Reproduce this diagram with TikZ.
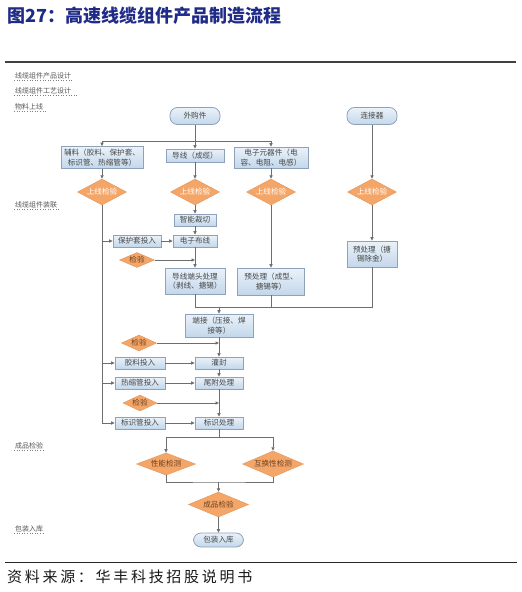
\documentclass[tikz,border=0pt]{standalone}
\usepackage{fontspec}
\setmainfont{Noto Sans CJK SC}
\usetikzlibrary{shapes.geometric,arrows.meta}
\definecolor{titleblue}{HTML}{1F2B86}
\definecolor{boxtop}{HTML}{EAF2FA}
\definecolor{boxbot}{HTML}{C3D7EB}
\definecolor{boxline}{HTML}{8EA3B9}
\definecolor{diafill}{HTML}{F4A669}
\definecolor{dialine}{HTML}{E39356}
\definecolor{diatext}{HTML}{6B4222}
\definecolor{lncol}{HTML}{6E6E6E}
\definecolor{labcol}{HTML}{555555}
\tikzset{
  boxnode/.style={draw=boxline, line width=0.8pt, top color=boxtop, bottom color=boxbot,
    font=\fontsize{7.6}{9.6}\selectfont, text=black!72, inner sep=0pt, align=center},
  rndnode/.style={boxnode, rounded corners=7.5pt},
  dianode/.style={diamond, fill=diafill, draw=dialine, line width=0.4pt, aspect=2, inner sep=0pt,
    font=\fontsize{7.6}{9}\selectfont, text=diatext},
  lightdia/.style={dianode, text=white},
  lab/.style={font=\fontsize{7}{8}\selectfont, text=labcol, anchor=west, inner sep=1pt},
  uline/.style={draw=gray, dotted, line width=0.6pt},
  conn/.style={draw=lncol, line width=0.8pt},
  arr/.style={conn, -{Triangle[length=3.5pt,width=3.2pt]}},
}
\begin{document}
\begin{tikzpicture}[x=1pt,y=-1pt]
\useasboundingbox (0,0) rectangle (522,592);
% title and rules
\node[anchor=west, inner sep=0pt, font=\fontsize{18}{20}\selectfont\bfseries, text=titleblue] (title) at (7,16) {图27：高速线缆组件产品制造流程};
\coordinate (r1a) at (5,62); \coordinate (r1b) at (516,62);
\draw[line width=1.2pt, black!75] (r1a) -- (r1b);
\coordinate (r2a) at (5,562); \coordinate (r2b) at (517,562);
\draw[line width=1pt, black!85] (r2a) -- (r2b);
\node[anchor=west, inner sep=0pt, font=\fontsize{15}{17}\selectfont\addfontfeature{LetterSpace=18}, text=black!90] (src) at (7,577) {资料来源：华丰科技招股说明书};
% left labels
\node[lab] (l1) at (14,76) {线缆组件产品设计};
\node[lab] (l2) at (14,91) {线缆组件工艺设计};
\node[lab] (l3) at (14,107) {物料上线};
\node[lab] (l4) at (14,205) {线缆组件装联};
\node[lab] (l5) at (14,446) {成品检验};
\node[lab] (l6) at (14,529) {包装入库};
\draw[uline] (l1.south west) -- (l1.south east);
\draw[uline] (l2.south west) -- ([xshift=6pt]l2.south east);
\draw[uline] (l3.south west) -- ([xshift=1pt]l3.south east);
\draw[uline] (l4.south west) -- (l4.south east);
\draw[uline] (l5.south west) -- (l5.south east);
\draw[uline] (l6.south west) -- (l6.south east);
% top nodes
\node[rndnode, minimum width=50, minimum height=17] (wgj) at (195,116) {外购件};
\node[rndnode, minimum width=50, minimum height=17] (ljq) at (372,116) {连接器};
\node[boxnode, minimum width=82, minimum height=22] (fl) at (102,157.5) {辅料（胶料、保护套、\\标识管、热缩管等）};
\node[boxnode, minimum width=58, minimum height=13] (dx) at (195,155.5) {导线（成缆）};
\node[boxnode, minimum width=74, minimum height=21] (dz) at (271,157.5) {电子元器件（电\\容、电阻、电感）};
% inspection diamonds
\node[lightdia, minimum width=49, minimum height=26] (d1) at (102,192) {上线检验};
\node[lightdia, minimum width=49, minimum height=26] (d2) at (195,192) {上线检验};
\node[lightdia, minimum width=49, minimum height=26] (d3) at (271,192) {上线检验};
\node[lightdia, minimum width=49, minimum height=26] (d4) at (372,192) {上线检验};
% middle column
\node[boxnode, minimum width=42, minimum height=12] (znqq) at (195,220) {智能裁切};
\node[boxnode, minimum width=44, minimum height=12] (dzbx) at (195,241) {电子布线};
\node[boxnode, minimum width=48, minimum height=12] (bht) at (137,241) {保护套投入};
\node[dianode, minimum width=35, minimum height=15] (jy1) at (137,260) {检验};
\node[boxnode, minimum width=60, minimum height=26] (dxdt) at (195,281) {导线端头处理\\（剥线、搪锡）};
\node[boxnode, minimum width=67, minimum height=27] (ycl1) at (271,281.5) {预处理（成型、\\搪锡等）};
\node[boxnode, minimum width=50, minimum height=26] (ycl2) at (372,254) {预处理（搪\\锡除金）};
% assembly
\node[boxnode, minimum width=68, minimum height=23] (dj) at (219,325.5) {端接（压接、焊\\接等）};
\node[dianode, minimum width=35, minimum height=16] (jy2) at (139,343) {检验};
\node[boxnode, minimum width=48, minimum height=12] (gf) at (219,363) {灌封};
\node[boxnode, minimum width=50, minimum height=12] (jltr) at (140,363) {胶料投入};
\node[boxnode, minimum width=48, minimum height=12] (wfcl) at (219,383) {尾附处理};
\node[boxnode, minimum width=50, minimum height=12] (rsg) at (140,383) {热缩管投入};
\node[dianode, minimum width=34, minimum height=16] (jy3) at (140,403) {检验};
\node[boxnode, minimum width=50, minimum height=12] (bsg) at (140,423) {标识管投入};
\node[boxnode, minimum width=48, minimum height=12] (bscl) at (219,423) {标识处理};
% final
\node[dianode, minimum width=59, minimum height=22] (xnjc) at (166,464) {性能检测};
\node[dianode, minimum width=61, minimum height=22] (hhx) at (273,464) {互换性检测};
\node[dianode, minimum width=60, minimum height=25] (cpjy) at (218.5,504.5) {成品检验};
\node[rndnode, minimum width=50, minimum height=14] (bzrk) at (218.5,540) {包装入库};
% connectors
\coordinate (s1) at (195,141);
\draw[conn] (wgj.south) -- (s1);
\draw[arr] (s1) -| (fl.north);
\draw[arr] (s1) -- (dx.north);
\draw[arr] (s1) -| (dz.north);
\draw[arr] (fl.south) -- (d1.north);
\draw[arr] (dx.south) -- (d2.north);
\draw[arr] (dz.south) -- (d3.north);
\draw[arr] (ljq.south) -- (d4.north);
\draw[arr] (d2.south) -- (znqq.north);
\draw[arr] (znqq.south) -- (dzbx.north);
\draw[arr] (dzbx.south) -- (dxdt.north);
\draw[arr] (jy1.east) -- (jy1.east -| dzbx.south);
\draw[arr] (bht.east) -- (dzbx.west);
\draw[arr] (d1.south) |- (bsg.west);
\draw[arr] (d1.south |- bht.west) -- (bht.west);
\draw[arr] (d1.south |- jltr.west) -- (jltr.west);
\draw[arr] (d1.south |- rsg.west) -- (rsg.west);
\draw[arr] (d3.south) -- (ycl1.north);
\draw[arr] (d4.south) -- (ycl2.north);
\coordinate (m1) at (219,307);
\draw[conn] (dxdt.south) |- (ycl2.south |- m1) -- (ycl2.south);
\draw[conn] (ycl1.south) -- (ycl1.south |- m1);
\draw[arr] (m1) -- (dj.north);
\draw[arr] (dj.south) -- (gf.north);
\draw[arr] (jy2.east) -- (jy2.east -| gf.north);
\draw[arr] (jltr.east) -- (gf.west);
\draw[arr] (gf.south) -- (wfcl.north);
\draw[arr] (rsg.east) -- (wfcl.west);
\draw[arr] (wfcl.south) -- (bscl.north);
\draw[arr] (jy3.east) -- (jy3.east -| bscl.north);
\draw[arr] (bsg.east) -- (bscl.west);
\coordinate (s2) at (219,437);
\draw[conn] (bscl.south) -- (s2);
\draw[arr] (s2) -| (xnjc.north);
\draw[arr] (s2) -| (hhx.north);
\coordinate (m2) at (218.5,482);
\draw[conn] (xnjc.south) |- (m2) -| (hhx.south);
\draw[arr] (m2) -- (cpjy.north);
\draw[arr] (cpjy.south) -- (bzrk.north);
\end{tikzpicture}
\end{document}
